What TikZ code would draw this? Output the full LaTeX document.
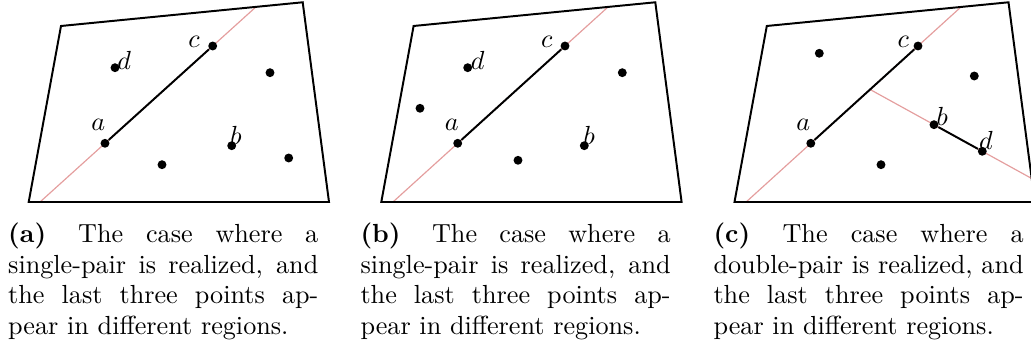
\documentclass[tikz,border=0pt]{standalone}
\usetikzlibrary{calc,backgrounds}

\definecolor{cutred}{RGB}{228,158,158}

\begin{document}
\begin{tikzpicture}[x=0.3821pt,y=-0.3821pt,
  pt/.style={circle, fill=black, inner sep=0pt, minimum size=3.4pt},
  lbl/.style={inner sep=0pt},
  region/.style={draw=black, line width=0.75pt, line join=miter},
  cut/.style={cutred, line width=0.45pt},
  pair/.style={line width=0.75pt},
  capt/.style={text width=118.5pt, align=justify, inner sep=0pt, anchor=base west,
    font={\fontsize{10}{11.6}\selectfont\sloppy}}]

\useasboundingbox (0,0) rectangle (1031,351);
\clip (0,0) rectangle (1031,351);

% ===== (a): single pair, last three in different regions =====
\begin{scope}
\draw[region] (61,26) -- (302.7,2.3) -- (329,202) -- (28.7,202) -- cycle;
\node[pt] (a1) at (105,143.3) {};
\node[pt] (c1) at (212.7,46) {};
\node[pt] (d1) at (115,67.7) {};
\node[pt] (b1) at (231.7,145.7) {};
\node[pt] (p11) at (270,72.7) {};
\node[pt] (p12) at (162,164.7) {};
\node[pt] (p13) at (288.7,158) {};
\begin{scope}[on background layer]
\begin{scope}
  \clip (61,26) -- (302.7,2.3) -- (329,202) -- (28.7,202) -- cycle;
  \draw[cut] ($(a1)!-1!(c1)$) -- ($(a1)!2!(c1)$);
\end{scope}
\end{scope}
\draw[pair] (a1) -- (c1);
\node[lbl] (la1) at (98.3,125) {$a$};
\node[lbl] (lc1) at (194,41.7) {$c$};
\node[lbl] (ld1) at (124.3,60) {$d$};
\node[lbl] (lb1) at (236,135) {$b$};
\node[capt] (cap1) at (7.7,243) {\textbf{(a)}\hspace{3.5pt} The case where a\linebreak
  single-pair is realized, and\linebreak the last three points ap-\linebreak
  pear in different regions.};
\end{scope}

% ===== (b): same pair, other spread of points =====
\begin{scope}[shift={(352.6,0)}]
\draw[region] (61,26) -- (302.7,2.3) -- (329,202) -- (28.7,202) -- cycle;
\node[pt] (a2) at (105.1,143.3) {};
\node[pt] (c2) at (212.4,46) {};
\node[pt] (d2) at (115.1,67.7) {};
\node[pt] (b2) at (231.7,145.7) {};
\node[pt] (p21) at (269.7,72.7) {};
\node[pt] (p22) at (165.4,160.3) {};
\node[pt] (p23) at (67.4,108.3) {};
\begin{scope}[on background layer]
\begin{scope}
  \clip (61,26) -- (302.7,2.3) -- (329,202) -- (28.7,202) -- cycle;
  \draw[cut] ($(a2)!-1!(c2)$) -- ($(a2)!2!(c2)$);
\end{scope}
\end{scope}
\draw[pair] (a2) -- (c2);
\node[lbl] (la2) at (99.1,125) {$a$};
\node[lbl] (lc2) at (194.1,41.7) {$c$};
\node[lbl] (ld2) at (125.1,60.7) {$d$};
\node[lbl] (lb2) at (236.7,135) {$b$};
\node[capt] (cap2) at (7.4,243) {\textbf{(b)}\hspace{3.5pt} The case where a\linebreak
  single-pair is realized, and\linebreak the last three points ap-\linebreak
  pear in different regions.};
\end{scope}

% ===== (c): double pair =====
\begin{scope}[shift={(705.8,0)}]
\draw[region] (61,26) -- (302.7,2.3) -- (329,202) -- (28.7,202) -- cycle;
\node[pt] (a3) at (105,143.3) {};
\node[pt] (c3) at (212.2,46) {};
\node[pt] (b3) at (228.2,124.7) {};
\node[pt] (d3) at (276.5,151.3) {};
\node[pt] (p31) at (113.5,53.3) {};
\node[pt] (p32) at (268.5,76) {};
\node[pt] (p33) at (175.2,164.7) {};
\coordinate (m3) at (intersection of a3--c3 and b3--d3);
\begin{scope}[on background layer]
\begin{scope}
  \clip (61,26) -- (302.7,2.3) -- (329,202) -- (28.7,202) -- cycle;
  \draw[cut] ($(a3)!-1!(c3)$) -- ($(a3)!2!(c3)$);
  \draw[cut] (m3) -- ($(m3)!4!(d3)$);
\end{scope}
\end{scope}
\draw[pair] (a3) -- (c3);
\draw[pair] (b3) -- (d3);
\node[lbl] (la3) at (97.5,125) {$a$};
\node[lbl] (lc3) at (197.5,41.7) {$c$};
\node[lbl] (lb3) at (236.5,116.7) {$b$};
\node[lbl] (ld3) at (280.2,140) {$d$};
\node[capt] (cap3) at (7.2,243) {\textbf{(c)}\hspace{3.5pt} The case where a\linebreak
  double-pair is realized, and\linebreak the last three points ap-\linebreak
  pear in different regions.};
\end{scope}

\end{tikzpicture}
\end{document}
